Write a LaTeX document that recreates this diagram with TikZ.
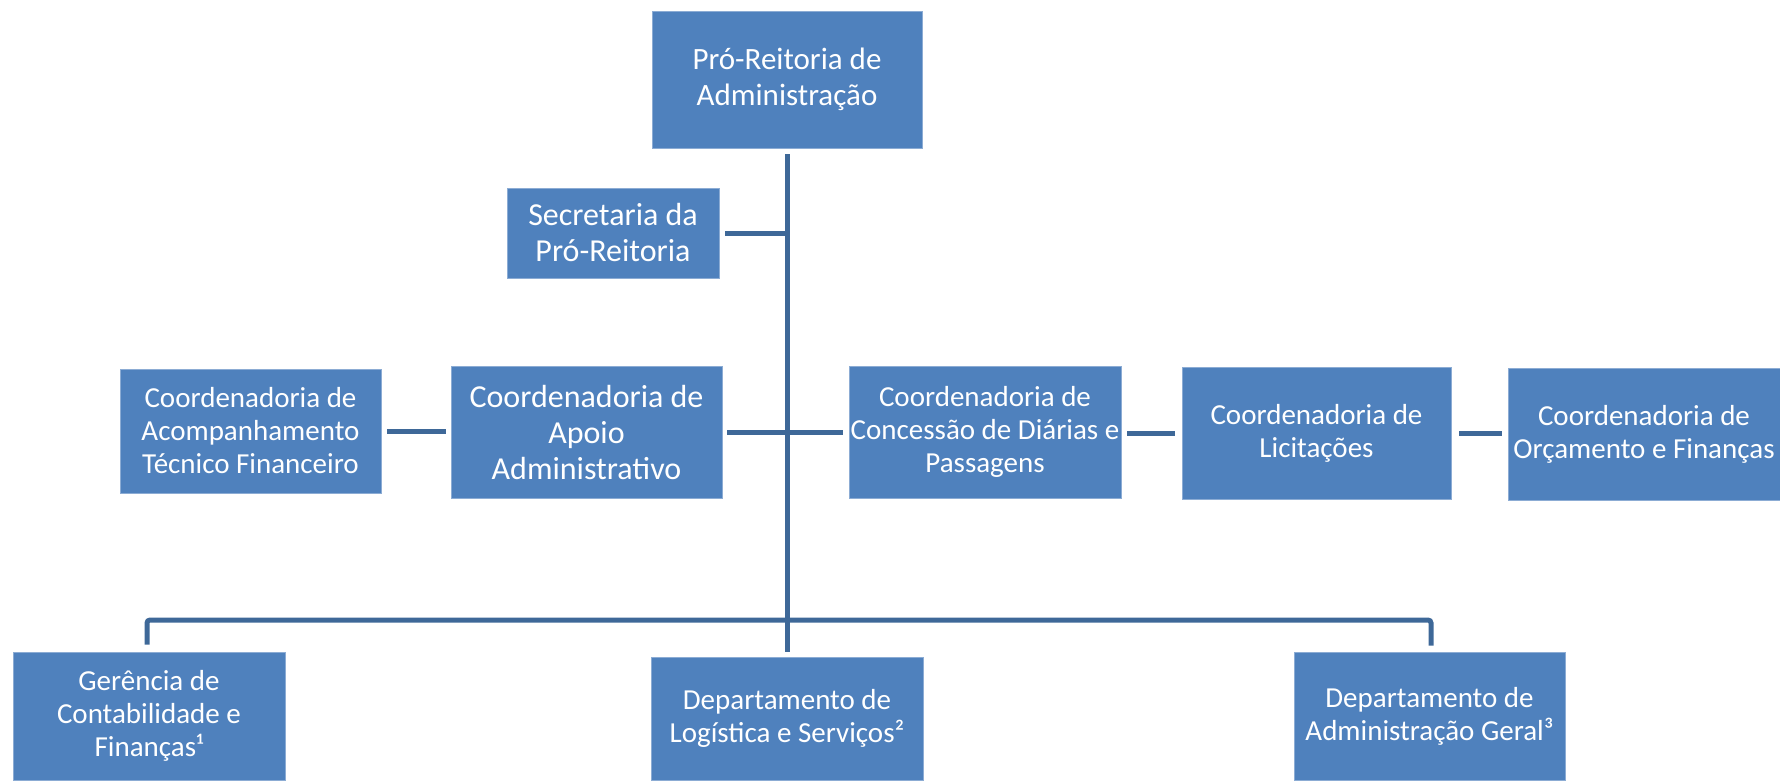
\documentclass[tikz,border=0pt]{standalone}
\usepackage{fontspec}
\setmainfont{Carlito}
\usetikzlibrary{calc}
\definecolor{boxfill}{RGB}{79,129,189}
\definecolor{boxline}{RGB}{140,172,212}
\definecolor{connline}{RGB}{62,104,152}
\tikzset{
  unit/.style={draw=boxline, line width=0.8pt, fill=boxfill, text=white, align=center,
    inner sep=0pt, font=\fontsize{29}{33}\selectfont},
  loose/.style={font=\fontsize{32}{36}\selectfont},
  conn/.style={draw=connline, line width=5pt},
}
\begin{document}
\begin{tikzpicture}[x=1pt,y=-1pt]
\useasboundingbox (0,0) rectangle (1780,780);
% boxes
\node[unit, font=\fontsize{31}{36}\selectfont, minimum width=270pt, minimum height=137pt] (top) at (787,79.5) {Pró-Reitoria de\\Administração};
\node[unit, loose, minimum width=212pt, minimum height=90pt] (sec) at (613,233) {Secretaria da\\Pró-Reitoria};
\node[unit, minimum width=261pt, minimum height=124pt] (acomp) at (250.5,431) {Coordenadoria de\\Acompanhamento\\Técnico Financeiro};
\node[unit, loose, minimum width=271pt, minimum height=132pt] (apoio) at (586.5,432) {Coordenadoria de\\Apoio\\Administrativo};
\node[unit, minimum width=272pt, minimum height=132pt] (conc) at (985,432) {Coordenadoria de\\Concessão de Diárias e\\Passagens};
\node[unit, minimum width=269pt, minimum height=132pt] (licit) at (1316.5,433) {Coordenadoria de\\Licitações};
\node[unit, minimum width=272pt, minimum height=132pt] (orc) at (1644,434) {Coordenadoria de\\Orçamento e Finanças};
\node[unit, minimum width=272pt, minimum height=128pt] (ger) at (149,716) {Gerência de\\Contabilidade e\\Finanças¹};
\node[unit, minimum width=272pt, minimum height=123pt] (log) at (787,718.5) {Departamento de\\Logística e Serviços²};
\node[unit, minimum width=271pt, minimum height=128pt] (adm) at (1429.5,716) {Departamento de\\Administração Geral³};
% connectors
\coordinate (bus) at (787,620);
\draw[conn] ($(top.south)+(0,6)$) -- ($(log.north)+(0,-5)$);
\draw[conn] ($(sec.east)+(6,0)$) -- (sec.east -| top.south);
\draw[conn] ($(acomp.east)+(6,0)$) -- ($(apoio.west |- acomp.east)+(-5,0)$);
\draw[conn] ($(apoio.east)+(5,0)$) -- ($(conc.west |- apoio.east)+(-6,0)$);
\draw[conn] ($(conc.east)+(6,1)$) -- ($(licit.west |- conc.east)+(-7,1)$);
\draw[conn] ($(licit.east)+(8,0)$) -- ($(orc.west |- licit.east)+(-6,0)$);
\draw[conn, rounded corners=3pt] ($(ger.north)+(-2,-7)$) -- ($(ger.north |- bus)+(-2,0)$) -- ($(adm.north |- bus)+(1.5,0)$) -- ($(adm.north)+(1.5,-6)$);
\end{tikzpicture}
\end{document}
